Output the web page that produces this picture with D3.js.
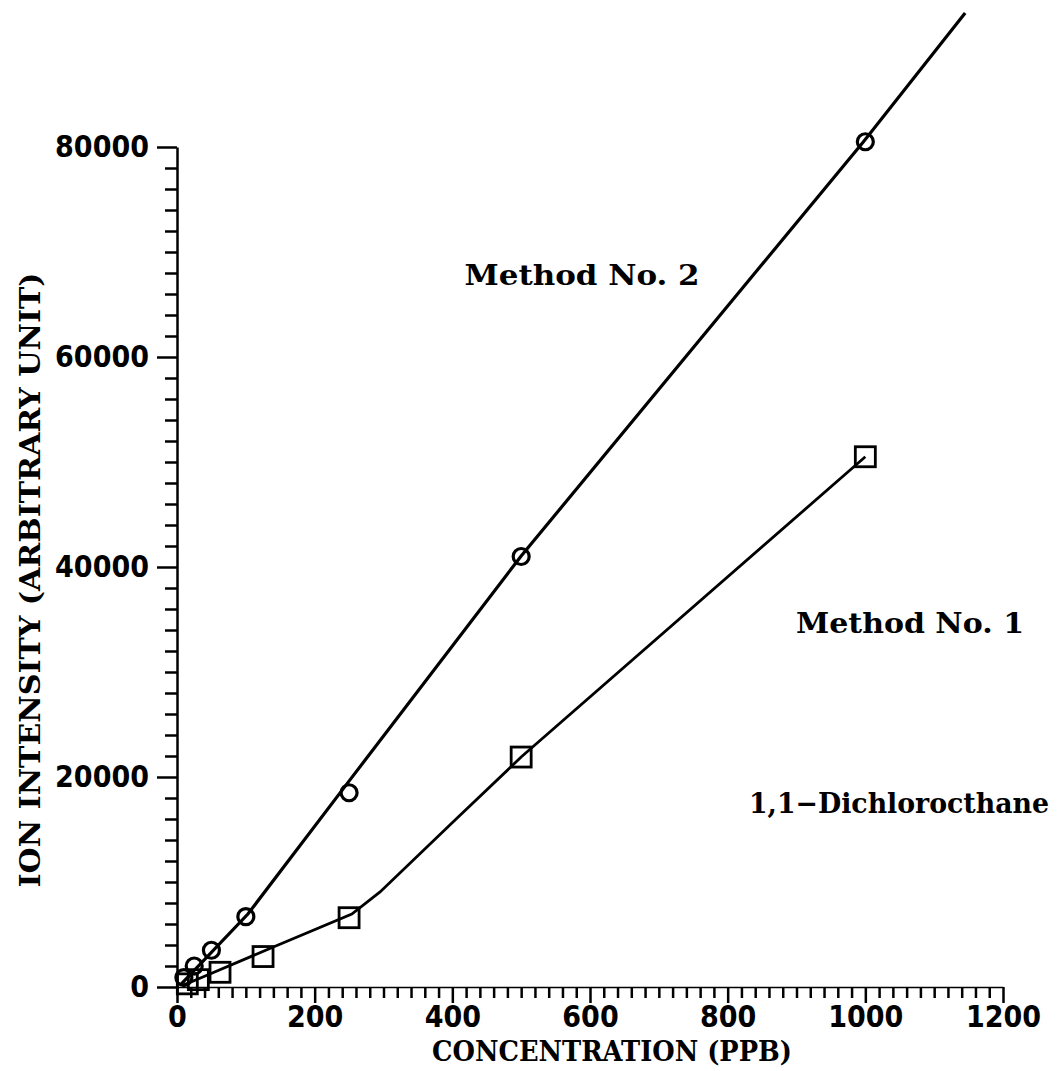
<!DOCTYPE html>
<html>
<head>
<meta charset="utf-8">
<script src="https://cdn.jsdelivr.net/npm/d3@7"></script>
<style>
  body { margin: 0; background: #fff; }
  svg { display: block; }
  .axis path, .axis line { stroke: #000; }
  .tlabel { font-family: "DejaVu Sans Condensed", "DejaVu Sans", sans-serif; font-stretch: condensed; font-weight: bold; font-size: 30px; fill: #000; }
  .title { font-family: "DejaVu Serif", serif; font-weight: bold; fill: #000; }
</style>
</head>
<body>
<svg width="1062" height="1071"></svg>
<script>
// Method No. 2 (circles)
var method2X = [10, 25, 50, 100, 250, 500, 1000];
var method2Y = [900, 2000, 3500, 6700, 18500, 41000, 80500];
// Method No. 1 (squares)
var method1X = [15, 31, 62.5, 125, 250, 500, 1000];
var method1Y = [300, 700, 1400, 2900, 6600, 21900, 50500];

// drawn curves
var line2X = [5, 103, 251, 500, 997, 1145];
var line2Y = [200, 6950, 19700, 41050, 80480, 92760];
var line1X = [10, 41, 140, 254, 295, 404, 500, 1000];
var line1Y = [200, 1050, 3810, 6950, 9050, 15900, 21900, 50500];

var xMajor = [0, 200, 400, 600, 800, 1000, 1200];
var yMajor = [0, 20000, 40000, 60000, 80000];

var labels = [
  { text: "Method No. 2", x: 582, y: 285, size: 28, len: 235 },
  { text: "Method No. 1", x: 910, y: 633, size: 28, len: 228 },
  { text: "1,1\u2212Dichlorocthane", x: 899, y: 813, size: 28, len: 300 }
];

function zip(xs, ys) {
  return xs.map(function(d, i) { return { x: d, y: ys[i] }; });
}

window.onload = function() {
  var svg = d3.select('svg');

  var x = d3.scaleLinear().domain([0, 1200]).range([177, 1003]);
  var y = d3.scaleLinear().domain([0, 80000]).range([987, 147]);

  var xMinor = d3.range(0, 1201, 20).filter(function(d) { return d % 200 != 0; });
  var yMinor = d3.range(0, 80001, 2000).filter(function(d) { return d % 20000 != 0; });

  // minor ticks
  svg.append('g')
      .attr('class', 'axis')
      .attr('transform', 'translate(0,987)')
      .call(d3.axisBottom(x).tickValues(xMinor).tickSize(11).tickSizeOuter(0).tickFormat(''))
    .call(function(g) { g.selectAll('line').attr('stroke-width', 2.5); g.select('.domain').remove(); });

  svg.append('g')
      .attr('class', 'axis')
      .attr('transform', 'translate(177,0)')
      .call(d3.axisLeft(y).tickValues(yMinor).tickSize(12).tickSizeOuter(0).tickFormat(''))
    .call(function(g) { g.selectAll('line').attr('stroke-width', 2.5); g.select('.domain').remove(); });

  // major ticks + labels
  var xAxis = svg.append('g')
      .attr('class', 'axis')
      .attr('transform', 'translate(0,987)')
      .call(d3.axisBottom(x).tickValues(xMajor).tickSize(16).tickSizeOuter(0).tickPadding(3).tickFormat(d3.format('d')));
  xAxis.select('.domain').attr('stroke-width', 1.5);
  xAxis.selectAll('line').attr('stroke-width', 2.5);
  xAxis.selectAll('text').attr('class', 'tlabel').attr('font-size', null).attr('font-family', null);

  var yAxis = svg.append('g')
      .attr('class', 'axis')
      .attr('transform', 'translate(177,0)')
      .call(d3.axisLeft(y).tickValues(yMajor).tickSize(20).tickSizeOuter(0).tickPadding(8).tickFormat(d3.format('d')));
  yAxis.select('.domain').attr('stroke-width', 2.5);
  yAxis.selectAll('line').attr('stroke-width', 2.5);
  yAxis.selectAll('text').attr('class', 'tlabel').attr('font-size', null).attr('font-family', null);

  // axis titles
  svg.append('text')
      .attr('class', 'title')
      .attr('x', 612).attr('y', 1061)
      .attr('text-anchor', 'middle')
      .attr('font-size', 28)
      .attr('textLength', 360).attr('lengthAdjust', 'spacingAndGlyphs')
      .text('CONCENTRATION (PPB)');

  svg.append('text')
      .attr('class', 'title')
      .attr('transform', 'translate(40,580) rotate(-90)')
      .attr('text-anchor', 'middle')
      .attr('font-size', 28)
      .attr('textLength', 615).attr('lengthAdjust', 'spacingAndGlyphs')
      .text('ION INTENSITY (ARBITRARY UNIT)');

  var line = d3.line()
      .x(function(d) { return x(d.x); })
      .y(function(d) { return y(d.y); });

  svg.append('path')
      .datum(zip(line2X, line2Y))
      .attr('fill', 'none')
      .attr('stroke', '#000')
      .attr('stroke-width', 3.2)
      .attr('d', line);

  svg.append('path')
      .datum(zip(line1X, line1Y))
      .attr('fill', 'none')
      .attr('stroke', '#000')
      .attr('stroke-width', 2.8)
      .attr('d', line);

  svg.selectAll('.circ')
      .data(zip(method2X, method2Y))
    .enter().append('circle')
      .attr('class', 'circ')
      .attr('cx', function(d) { return x(d.x); })
      .attr('cy', function(d) { return y(d.y); })
      .attr('r', 8)
      .attr('fill', 'none')
      .attr('stroke', '#000')
      .attr('stroke-width', 3.2);

  svg.selectAll('.sq')
      .data(zip(method1X, method1Y))
    .enter().append('rect')
      .attr('class', 'sq')
      .attr('x', function(d) { return x(d.x) - 10; })
      .attr('y', function(d) { return y(d.y) - 10; })
      .attr('width', 20)
      .attr('height', 20)
      .attr('fill', 'none')
      .attr('stroke', '#000')
      .attr('stroke-width', 2.8);

  svg.selectAll('.lbl')
      .data(labels)
    .enter().append('text')
      .attr('class', 'title lbl')
      .attr('x', function(d) { return d.x; })
      .attr('y', function(d) { return d.y; })
      .attr('text-anchor', 'middle')
      .attr('font-size', function(d) { return d.size; })
      .attr('textLength', function(d) { return d.len; })
      .attr('lengthAdjust', 'spacingAndGlyphs')
      .text(function(d) { return d.text; });
}
</script>
</body>
</html>
